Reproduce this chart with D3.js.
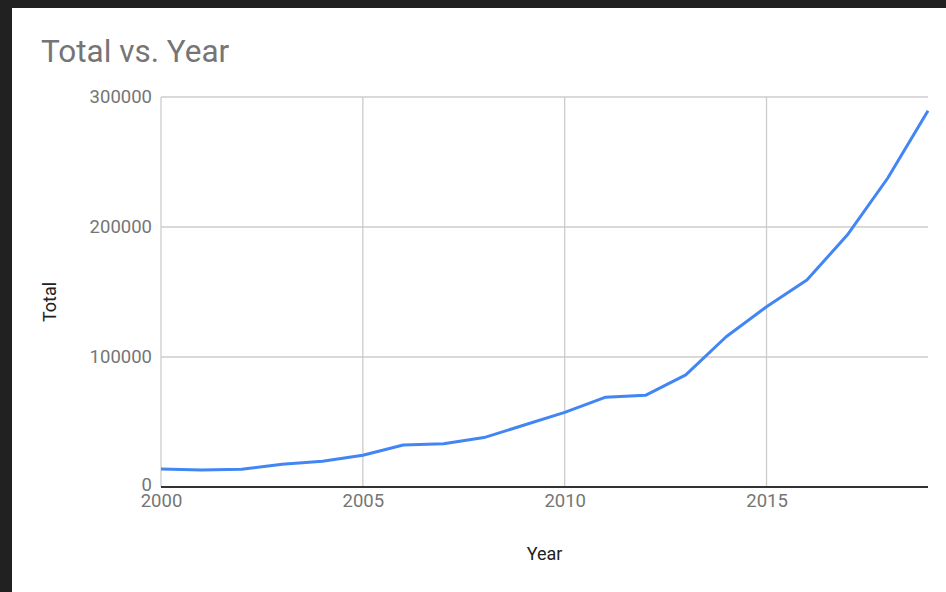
<!DOCTYPE html>
<html>
<head>
<meta charset="utf-8">
<script src="https://cdn.jsdelivr.net/npm/d3@7"></script>
<style>
  html, body { margin: 0; padding: 0; background: #212121; }
  svg { display: block; font-family: Roboto, sans-serif; }
</style>
</head>
<body>
<div id="chart"></div>
<script>
const years = [2000, 2001, 2002, 2003, 2004, 2005, 2006, 2007, 2008, 2009,
               2010, 2011, 2012, 2013, 2014, 2015, 2016, 2017, 2018, 2019]
const totals = [13800, 13000, 13700, 17500, 19800, 24400, 32300, 33300, 38000, 47700,
                57400, 69000, 70500, 86200, 115600, 138700, 159200, 193800, 237500, 289500]
const xTicks = [2000, 2005, 2010, 2015]
const yTicks = [0, 100000, 200000, 300000]

const width = 946
const height = 592
const margin = { top: 97, right: 18, bottom: 105, left: 161 }

const svg = d3.select('#chart').append('svg')
  .attr('width', width)
  .attr('height', height)

// white card on the dark page
svg.append('rect')
  .attr('x', 12).attr('y', 8)
  .attr('width', width - 12).attr('height', height - 8)
  .attr('fill', '#fff')

const x = d3.scaleLinear()
  .domain([2000, 2019])
  .range([margin.left, width - margin.right])

const y = d3.scaleLinear()
  .domain([0, 300000])
  .range([height - margin.bottom, margin.top])

// gridlines
svg.append('g')
  .attr('stroke', '#cccccc')
  .attr('stroke-width', 1.3)
  .selectAll('line.h')
  .data(yTicks.slice(1))
  .join('line')
    .attr('x1', x.range()[0]).attr('x2', x.range()[1])
    .attr('y1', d => y(d)).attr('y2', d => y(d))

svg.append('g')
  .attr('stroke', '#cccccc')
  .attr('stroke-width', 1.3)
  .selectAll('line.v')
  .data(xTicks)
  .join('line')
    .attr('x1', d => x(d)).attr('x2', d => x(d))
    .attr('y1', y.range()[0]).attr('y2', y.range()[1])

// axes (labels only, google-charts look)
const yAxis = svg.append('g')
  .attr('transform', `translate(${margin.left},0)`)
  .call(d3.axisLeft(y).tickValues(yTicks).tickFormat(d3.format('d')).tickSize(0).tickPadding(9))
yAxis.select('.domain').remove()
yAxis.selectAll('text')
  .attr('font-size', 18.5)
  .attr('fill', '#757575')
  .attr('font-family', 'Roboto, sans-serif')
// the 0 label sits just above the year labels, like the reference
yAxis.selectAll('.tick').filter(d => d === 0).select('text').attr('dy', '0.2em')

const xAxis = svg.append('g')
  .attr('transform', `translate(0,${y(0)})`)
  .call(d3.axisBottom(x).tickValues(xTicks).tickFormat(d3.format('d')).tickSize(0).tickPadding(7))
xAxis.select('.domain').remove()
xAxis.selectAll('text')
  .attr('font-size', 18.5)
  .attr('fill', '#757575')
  .attr('font-family', 'Roboto, sans-serif')

// baseline
svg.append('line')
  .attr('x1', x.range()[0]).attr('x2', x.range()[1])
  .attr('y1', y(0)).attr('y2', y(0))
  .attr('stroke', '#333')
  .attr('stroke-width', 2)

// series
const line = d3.line()
  .x((d, i) => x(years[i]))
  .y(d => y(d))

svg.append('path')
  .datum(totals)
  .attr('fill', 'none')
  .attr('stroke', '#4285f4')
  .attr('stroke-width', 3)
  .attr('stroke-linejoin', 'round')
  .attr('d', line)

// titles
svg.append('text')
  .attr('x', 41).attr('y', 62)
  .attr('font-size', 31.5)
  .attr('fill', '#757575')
  .text('Total vs. Year')

svg.append('text')
  .attr('x', (x.range()[0] + x.range()[1]) / 2)
  .attr('y', 560)
  .attr('text-anchor', 'middle')
  .attr('font-size', 18)
  .attr('fill', '#222')
  .text('Year')

svg.append('text')
  .attr('transform', 'translate(56,302) rotate(-90)')
  .attr('text-anchor', 'middle')
  .attr('font-size', 18)
  .attr('fill', '#222')
  .text('Total')
</script>
</body>
</html>
